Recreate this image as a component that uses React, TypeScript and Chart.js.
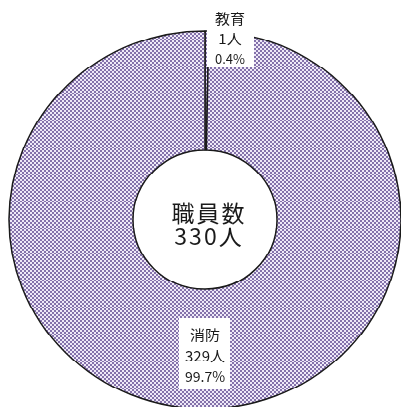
import React, { useEffect, useRef } from 'react';
import { Chart, registerables } from 'chart.js';

Chart.register(...registerables);

const categories = ['教育', '消防'];
const staffCounts = [1, 329];
const countLabels = ['1人', '329人'];
const percentLabels = ['0.4%', '99.7%'];
const centerTitle = '職員数';
const centerValue = '330人';

const SQUASH = 0.964;
const CANVAS_W = 401;
const CANVAS_H = 422;

function makePattern(): CanvasPattern | string {
  const c = document.createElement('canvas');
  c.width = 4;
  c.height = 4;
  const g = c.getContext('2d');
  if (!g) return '#ab9ec8';
  g.fillStyle = '#efe9f8';
  g.fillRect(0, 0, 4, 4);
  g.fillStyle = '#8472ab';
  g.fillRect(0, 0, 2, 2);
  g.fillRect(2, 2, 2, 2);
  const p = g.createPattern(c, 'repeat');
  return p || '#ab9ec8';
}

const labelPlugin = {
  id: 'ringLabels',
  afterDatasetsDraw(chart: any) {
    const ctx = chart.ctx as CanvasRenderingContext2D;
    const arc = chart.getDatasetMeta(0).data[0] as any;
    if (!arc) return;
    const cx = arc.x;
    const cy = arc.y;
    ctx.save();
    ctx.textAlign = 'center';
    ctx.textBaseline = 'middle';
    // top label (教育)
    ctx.fillStyle = '#ffffff';
    ctx.fillRect(cx + 2, 0, 47, cy - 158.7);
    ctx.fillStyle = '#1a1a1a';
    ctx.font = '15px "Noto Sans CJK JP"';
    const tx = cx + 25;
    ctx.fillText(categories[0], tx, cy - 208.5);
    ctx.fillText(countLabels[0], tx, cy - 187.7);
    ctx.font = '13px "Noto Sans CJK JP"';
    ctx.fillText(percentLabels[0], tx, cy - 167);
    // bottom label (消防)
    ctx.fillStyle = '#ffffff';
    ctx.fillRect(cx - 26, cy + 102, 51, 74);
    ctx.fillStyle = '#1a1a1a';
    ctx.font = '15px "Noto Sans CJK JP"';
    ctx.fillText(categories[1], cx, cy + 119.3);
    ctx.fillText(countLabels[1], cx, cy + 141.1);
    ctx.font = '14px "Noto Sans CJK JP"';
    ctx.fillText(percentLabels[1], cx, cy + 162.8);
    // center
    ctx.font = '23px "Noto Sans CJK JP"';
    (ctx as any).letterSpacing = '2px';
    ctx.fillText(centerTitle, cx + 4, cy - 7.2);
    ctx.fillText(centerValue, cx + 4, cy + 17.7);
    ctx.restore();
  },
};

export default function App() {
  const ref = useRef<HTMLCanvasElement | null>(null);
  useEffect(() => {
    const canvas = ref.current;
    if (!canvas) return;
    const pattern = makePattern();
    const chart = new Chart(canvas, {
      type: 'doughnut',
      data: {
        labels: categories,
        datasets: [
          {
            data: staffCounts,
            backgroundColor: [pattern, pattern] as any,
            borderColor: '#1a1a1a',
            borderWidth: 1.5,
            clip: false as any,
          },
        ],
      },
      options: {
        responsive: false,
        animation: false,
        radius: 196,
        cutout: 71,
        rotation: 0,
        layout: { padding: { left: 9, right: 0, top: 34, bottom: 0 } },
        plugins: {
          legend: { display: false },
          tooltip: { enabled: false },
        },
      } as any,
      plugins: [labelPlugin],
    });
    return () => chart.destroy();
  }, []);
  return (
    <div
      style={{
        position: 'absolute',
        left: 0,
        top: 0,
        width: CANVAS_W,
        height: CANVAS_H,
        transform: `scaleY(${SQUASH})`,
        transformOrigin: '0 0',
        background: '#fff',
      }}
    >
      <canvas ref={ref} width={CANVAS_W} height={CANVAS_H} style={{ display: 'block' }} />
    </div>
  );
}
